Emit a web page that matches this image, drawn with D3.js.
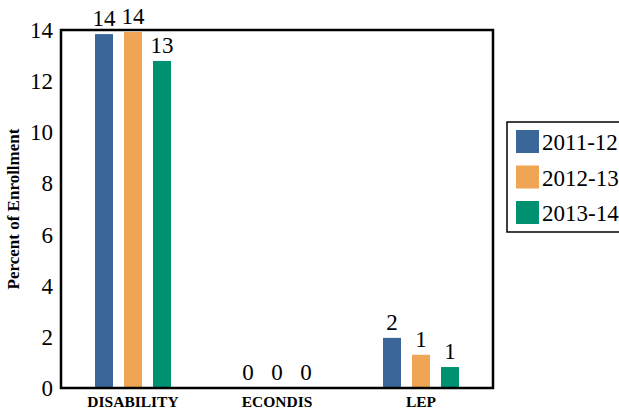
<!DOCTYPE html>
<html>
<head>
<meta charset="utf-8">
<script src="https://cdn.jsdelivr.net/npm/d3@7"></script>
<style>
body { margin: 0; background: #fff; }
</style>
</head>
<body>
<div id="chart"></div>
<script>
var categories = ["DISABILITY", "ECONDIS", "LEP"];
var years = ["2011-12", "2012-13", "2013-14"];
var values2011 = [13.84, 0, 1.96];
var values2012 = [13.92, 0, 1.3];
var values2013 = [12.79, 0, 0.82];
var labels2011 = ["14", "0", "2"];
var labels2012 = ["14", "0", "1"];
var labels2013 = ["13", "0", "1"];
var yTicks = [0, 2, 4, 6, 8, 10, 12, 14];
var colors = ["#3a6699", "#f0a555", "#009270"];

var layout = { w: 619, h: 412, left: 61, right: 493, top: 30, bottom: 388 };
var serif = "'Liberation Serif', 'Times New Roman', Times, 'DejaVu Serif', serif";

var series = [values2011, values2012, values2013];
var seriesLabels = [labels2011, labels2012, labels2013];

var svg = d3.select("#chart").append("svg")
	.attr("width", layout.w)
	.attr("height", layout.h)
	.style("font-family", serif);

var xScale = d3.scaleBand().domain(categories).range([layout.left, layout.right]);
var yScale = d3.scaleLinear().domain([0, 14]).range([layout.bottom, layout.top]);
var barW = 18, step = 29;

// bars
categories.forEach(function(c, ci){
	var cx = xScale(c) + xScale.bandwidth() / 2;
	series.forEach(function(s, si){
		var x = cx + (si - 1) * step - barW / 2;
		svg.append("rect")
			.attr("x", x)
			.attr("y", yScale(s[ci]))
			.attr("width", barW)
			.attr("height", layout.bottom - yScale(s[ci]))
			.style("fill", colors[si]);
		svg.append("text")
			.attr("x", x + barW / 2)
			.attr("y", yScale(s[ci]) - 8)
			.attr("text-anchor", "middle")
			.style("font-size", "23px")
			.text(seriesLabels[si][ci]);
	});
});

// frame
svg.append("rect")
	.attr("x", layout.left)
	.attr("y", layout.top)
	.attr("width", layout.right - layout.left)
	.attr("height", layout.bottom - layout.top)
	.style("fill", "none")
	.style("stroke", "#000")
	.style("stroke-width", 2.5);

// y ticks
svg.selectAll(".ytick")
	.data(yTicks)
	.enter().append("text")
	.attr("class", "ytick")
	.attr("x", layout.left - 8)
	.attr("y", function(d){ return yScale(d) + 8; })
	.attr("text-anchor", "end")
	.style("font-size", "23px")
	.text(function(d){ return d; });

// x labels
svg.selectAll(".xlab")
	.data(categories)
	.enter().append("text")
	.attr("class", "xlab")
	.attr("x", function(d){ return xScale(d) + xScale.bandwidth() / 2; })
	.attr("y", 407)
	.attr("text-anchor", "middle")
	.style("font-size", "15.5px")
	.style("font-weight", "bold")
	.text(function(d){ return d; });

// y title
svg.append("text")
	.attr("transform", "translate(19," + ((layout.top + layout.bottom) / 2) + ") rotate(-90)")
	.attr("text-anchor", "middle")
	.style("font-size", "17px")
	.style("font-weight", "bold")
	.text("Percent of Enrollment");

// legend
var lg = svg.append("g").attr("transform", "translate(507,122)");
lg.append("rect")
	.attr("x", 0).attr("y", 0)
	.attr("width", 130).attr("height", 110)
	.style("fill", "#fff")
	.style("stroke", "#000")
	.style("stroke-width", 1.5);
years.forEach(function(y, i){
	lg.append("rect")
		.attr("x", 9)
		.attr("y", 8 + i * 35.5)
		.attr("width", 23)
		.attr("height", 23)
		.style("fill", colors[i]);
	lg.append("text")
		.attr("x", 35)
		.attr("y", 28 + i * 35.5)
		.style("font-size", "23px")
		.text(y);
});
</script>
</body>
</html>
